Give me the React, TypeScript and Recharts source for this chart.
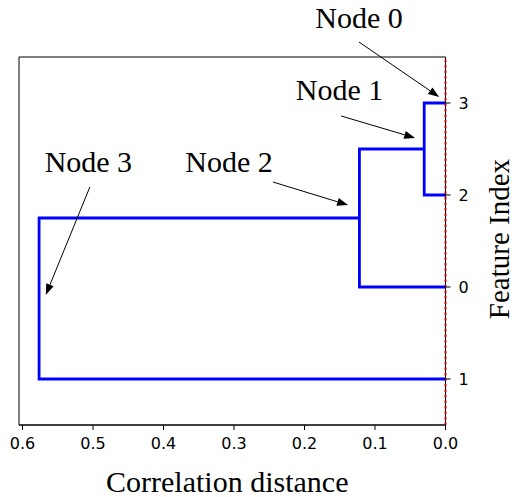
import React from 'react';
import {
  LineChart,
  Line,
  XAxis,
  YAxis,
  ReferenceLine,
  ReferenceArea,
} from 'recharts';

// leaf order from bottom to top and where each leaf sits on the y scale
const leafLabels = ['1', '0', '2', '3'];
const leafPositions = [5, 15, 25, 35];

// merge distances of the three links
const mergeHeights = [0.0302, 0.1221, 0.5765];

// link shapes as [y, distance] corner lists (scipy icoord / dcoord style)
const linkY = [
  [35, 35, 25, 25],
  [30, 30, 15, 15],
  [22.5, 22.5, 5, 5],
];
const linkD = [
  [0, mergeHeights[0], mergeHeights[0], 0],
  [mergeHeights[0], mergeHeights[1], mergeHeights[1], 0],
  [mergeHeights[1], mergeHeights[2], mergeHeights[2], 0],
];

const xTicks = [0.6, 0.5, 0.4, 0.3, 0.2, 0.1, 0.0];

// node annotations: text anchor, arrow tail, arrow head (distance, y)
const nodeNames = ['Node 0', 'Node 1', 'Node 2', 'Node 3'];
const nodeText = [
  [0.1227, 43.15],
  [0.1502, 35.33],
  [0.3071, 27.5],
  [0.5066, 27.5],
];
const arrowTail = [
  [0.1227, 41.63],
  [0.1481, 33.59],
  [0.2447, 26.41],
  [0.5045, 25.87],
];
const arrowHead = [
  [0.0089, 35.65],
  [0.043, 31.2],
  [0.1382, 23.91],
  [0.567, 14.13],
];

const links = linkY.map((ys, i) => ys.map((y, j) => ({ x: linkD[i][j], y })));

const serif = '"Liberation Serif", "Times New Roman", serif';
const sans = '"DejaVu Sans", sans-serif';

const W = 516;
const H = 497;
const X_MAX = 0.605;
const Y_MAX = 40;
const plot = { left: 19, top: 57, right: 445.5, bottom: 425 };

function makeArrow(idx: number) {
  return (props: any) => {
    const { x1, y1, x2, y2 } = props;
    // text anchor relative to the tail, in pixels
    const yScale = (plot.bottom - plot.top) / Y_MAX;
    const xScale = (plot.right - plot.left) / X_MAX;
    const tx = x1 + (arrowTail[idx][0] - nodeText[idx][0]) * xScale;
    const ty = y1 - (nodeText[idx][1] - arrowTail[idx][1]) * yScale;
    const ang = Math.atan2(y2 - y1, x2 - x1);
    const len = 11;
    const w = 4;
    const bx = x2 - len * Math.cos(ang);
    const by = y2 - len * Math.sin(ang);
    const px = -Math.sin(ang) * w;
    const py = Math.cos(ang) * w;
    return (
      <g>
        <line x1={x1} y1={y1} x2={bx} y2={by} stroke="#000" strokeWidth={1} />
        <polygon
          points={`${x2},${y2} ${bx + px},${by + py} ${bx - px},${by - py}`}
          fill="#000"
        />
        <text
          x={tx}
          y={ty}
          textAnchor="middle"
          fontFamily={serif}
          fontSize={30}
          fill="#000"
        >
          {nodeNames[idx]}
        </text>
      </g>
    );
  };
}

export default function App() {
  return (
    <>
      <style>{'body { margin: 0; }'}</style>
      <LineChart
        width={W}
        height={H}
        margin={{
          top: plot.top,
          right: W - plot.right - 60,
          bottom: H - plot.bottom - 68,
          left: plot.left,
        }}
      >
        <XAxis
          type="number"
          dataKey="x"
          domain={[0, X_MAX]}
          reversed
          allowDataOverflow
          ticks={xTicks}
          tickFormatter={(v: number) => v.toFixed(1)}
          tick={{ fontSize: 16, fill: '#000', fontFamily: sans }}
          tickSize={5}
          tickMargin={8}
          height={68}
          stroke="#000"
          label={{
            content: ({ viewBox }: any) => (
              <text
                x={viewBox.x + viewBox.width / 2 - 5}
                y={viewBox.y + 66.5}
                textAnchor="middle"
                fontFamily={serif}
                fontSize={30}
                fill="#000"
              >
                Correlation distance
              </text>
            ),
          }}
        />
        <YAxis
          type="number"
          dataKey="y"
          orientation="right"
          domain={[0, Y_MAX]}
          allowDataOverflow
          ticks={leafPositions}
          tickFormatter={(v: number) => leafLabels[leafPositions.indexOf(v)]}
          tick={{ fontSize: 16, fill: '#000', fontFamily: sans }}
          tickSize={5}
          tickMargin={8}
          width={60}
          axisLine={false}
          stroke="#000"
          label={{
            content: ({ viewBox }: any) => {
              const cx = 509;
              const cy = viewBox.y + viewBox.height / 2 - 2;
              return (
                <text
                  x={cx}
                  y={cy}
                  transform={`rotate(-90 ${cx} ${cy})`}
                  textAnchor="middle"
                  fontFamily={serif}
                  fontSize={29}
                  fill="#000"
                >
                  Feature Index
                </text>
              );
            },
          }}
        />
        <ReferenceLine
          x={0}
          stroke="#e00000"
          strokeWidth={2}
          strokeDasharray="2.5 3"
          ifOverflow="visible"
        />
        <ReferenceArea
          x1={X_MAX}
          x2={0}
          y1={0}
          y2={Y_MAX}
          fill="none"
          stroke="#000"
          strokeWidth={1}
          ifOverflow="visible"
        />
        {links.map((pts, i) => (
          <Line
            key={i}
            data={pts}
            dataKey="y"
            type="linear"
            stroke="#0000ff"
            strokeWidth={2.8}
            dot={false}
            activeDot={false}
            isAnimationActive={false}
          />
        ))}
        {nodeNames.map((name, i) => (
          <ReferenceLine
            key={name}
            segment={[
              { x: arrowTail[i][0], y: arrowTail[i][1] },
              { x: arrowHead[i][0], y: arrowHead[i][1] },
            ]}
            ifOverflow="visible"
            shape={makeArrow(i)}
          />
        ))}
      </LineChart>
    </>
  );
}
